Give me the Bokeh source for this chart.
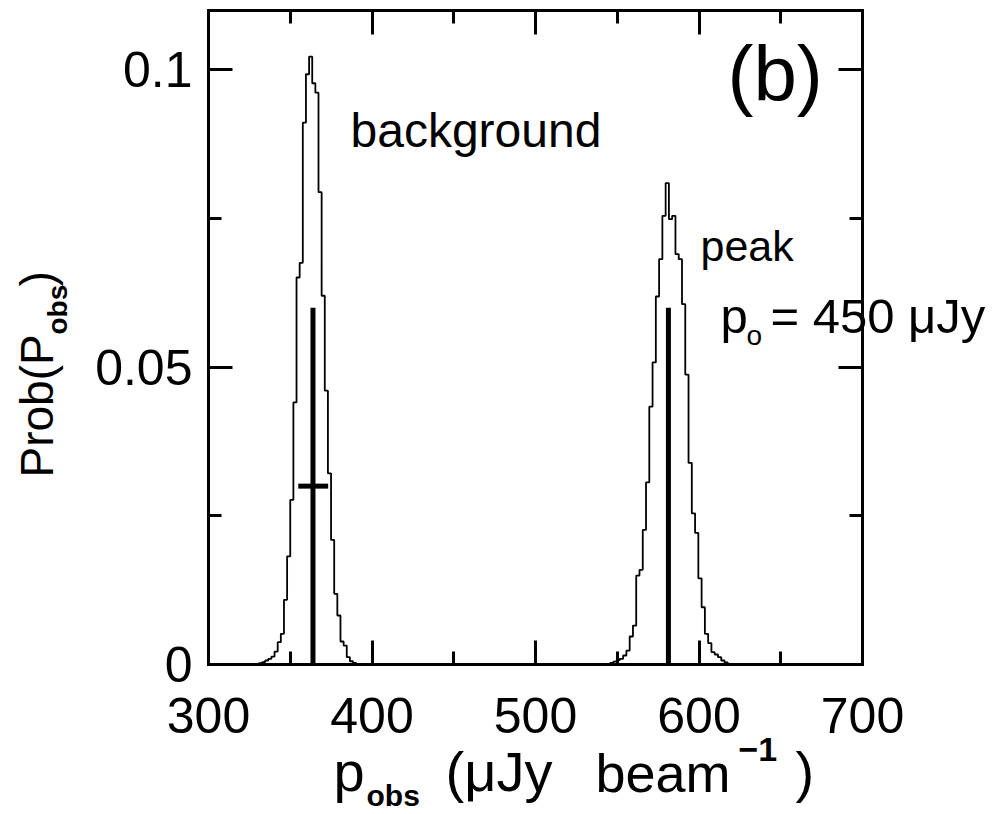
import numpy as np
from bokeh.plotting import figure
from bokeh.models import Range1d, LinearAxis, FixedTicker, Label
from bokeh.embed import file_html
from bokeh.resources import INLINE

# ---- data ----
# background histogram (probability per bin)
bg_start = 330.8
bg_width = 1.92
bg_prob = [0.00022, 0.00039, 0.00067, 0.00096, 0.00134, 0.00218, 0.00375, 0.00516,
           0.01087, 0.01820, 0.02768, 0.04408, 0.06509, 0.06756, 0.09114, 0.09928,
           0.10224, 0.09776, 0.09618, 0.07945, 0.06202, 0.04605, 0.03215, 0.02096,
           0.01188, 0.00824, 0.00387, 0.00319, 0.00123, 0.00055, 0.00025]
# peak histogram
pk_start = 545.6
pk_width = 2.0
pk_prob = [0.00025, 0.00050, 0.00076, 0.00096, 0.00151, 0.00235, 0.00471, 0.00655,
           0.01496, 0.01592, 0.02264, 0.03064, 0.04336, 0.05081, 0.06190, 0.06818,
           0.07546, 0.08096, 0.07491, 0.07546, 0.06903, 0.06818, 0.06062, 0.04874,
           0.03390, 0.02543, 0.02213, 0.01450, 0.00963, 0.00516, 0.00358, 0.00207,
           0.00168, 0.00123, 0.00067, 0.00034]
# mean markers
marker_x = [363.9, 581.3]
marker_top = [0.06, 0.06]
# width bar on background
err_y = 0.03
err_lo = 354.9
err_hi = 373.2

x_ticks = [300, 400, 500, 600, 700]
x_minor = [350, 450, 550, 650]
y_ticks = [0, 0.05, 0.1]
y_minor = [0.025, 0.075]
y_tick_labels = {0: "0", 0.05: "0.05", 0.1: "0.1"}

# ---- layout (pixel placement of the plotting box inside the 1001x814 page) ----
W, H = 1001, 814
FL, FT, FW, FH = 208, 10, 654, 654
X0, X1, Y0, Y1 = 300, 700, 0.0, 0.11


def dx(px):
    return X0 + (px - FL) * (X1 - X0) / FW


def dy(py):
    return Y0 + (FT + FH - py) * (Y1 - Y0) / FH


p = figure(frame_width=W, frame_height=H,
           x_range=Range1d(dx(0), dx(W)), y_range=Range1d(dy(H), dy(0)),
           x_axis_location=None, y_axis_location=None,
           output_backend="svg", toolbar_location=None,
           min_border=0)
p.background_fill_color = "white"
p.border_fill_color = "white"
p.outline_line_color = None
p.grid.visible = False

FONT = "Liberation Sans"


def make_axis(side, loc, bounds, ticks, minor, show_labels):
    ax = LinearAxis(fixed_location=loc, bounds=bounds,
                    ticker=FixedTicker(ticks=ticks, minor_ticks=minor))
    ax.axis_line_color = "black"
    ax.axis_line_width = 3
    ax.axis_line_cap = "square"
    ax.major_tick_in = 24
    ax.major_tick_out = 0
    ax.minor_tick_in = 13
    ax.minor_tick_out = 0
    ax.major_tick_line_width = 3
    ax.minor_tick_line_width = 3
    ax.major_tick_line_color = "black"
    ax.minor_tick_line_color = "black"
    if show_labels:
        ax.major_label_text_font = FONT
        ax.major_label_text_font_size = "50px"
        ax.major_label_text_color = "black"
    else:
        ax.major_label_text_color = None
    p.add_layout(ax, side)
    return ax


bottom = make_axis("below", Y0, (X0, X1), x_ticks, x_minor, True)
bottom.major_label_standoff = 33
left = make_axis("left", X0, (Y0, Y1), y_ticks, y_minor, True)
left.major_label_standoff = 16
left.major_label_overrides = y_tick_labels
make_axis("above", Y1, (X0, X1), x_ticks, x_minor, False)
make_axis("right", X1, (Y0, Y1), y_ticks, y_minor, False)


def step_xy(start, width, heights):
    h = np.asarray(heights)
    edges = start + width * np.arange(len(h) + 1)
    xs = np.repeat(edges, 2)
    ys = np.concatenate([[0.0], np.repeat(h, 2), [0.0]])
    return xs, ys


for start, width, probs in [(bg_start, bg_width, bg_prob), (pk_start, pk_width, pk_prob)]:
    xs, ys = step_xy(start, width, probs)
    p.line(xs, ys, line_color="black", line_width=1.8)

p.segment(x0=marker_x, y0=[0.0] * len(marker_x), x1=marker_x, y1=marker_top,
          line_color="black", line_width=5)
p.segment(x0=[err_lo], y0=[err_y], x1=[err_hi], y1=[err_y],
          line_color="black", line_width=5)

SHIFT = 0.37  # empirical baseline correction (em)


def lab(text, px, py, size, bold=False, rotated=False):
    if rotated:
        x, y, ang = dx(px - SHIFT * size), dy(py), np.pi / 2
    else:
        x, y, ang = dx(px), dy(py - SHIFT * size), 0.0
    p.add_layout(Label(x=x, y=y, text=text, text_font=FONT,
                       text_font_size=f"{size}px", text_color="black",
                       text_font_style="bold" if bold else "normal",
                       text_align="left", text_baseline="alphabetic",
                       angle=ang))


# annotations in the plot
lab("(b)", 727, 102, 78)
lab("background", 350, 148, 48)
lab("peak", 700, 261, 43)
lab("p", 720, 334, 49)
lab("o", 746, 345, 28)
lab("= 450 \u03bcJy", 770, 334, 49)

# x axis title
lab("p", 333, 792, 56)
lab("obs", 366, 806, 30, bold=True)
lab("(\u03bcJy", 445, 792, 56)
lab("beam", 595, 792, 54)
lab("\u22121", 738, 762, 34, bold=True)
lab(")", 795, 792, 56)

# y axis title (rotated)
lab("Prob(P", 54, 477, 46, rotated=True)
lab("obs", 67, 334, 28, bold=True, rotated=True)
lab(")", 54, 286, 46, rotated=True)

open("out.html", "w").write(file_html(p, INLINE))
